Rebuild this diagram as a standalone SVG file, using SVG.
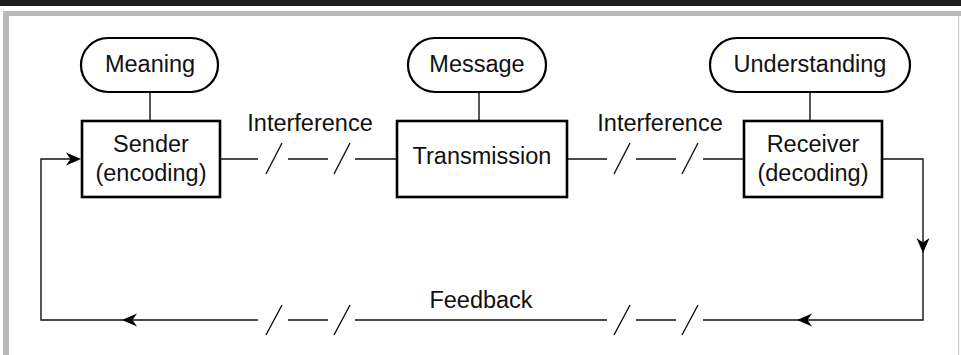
<svg xmlns="http://www.w3.org/2000/svg" width="961" height="355" viewBox="0 0 961 355">
  <style>
    text { font-family: "Liberation Sans", Arial, Helvetica, sans-serif; font-size: 23.5px; fill: #111; text-anchor: middle; }
    .pill { fill: #fff; stroke: #000; stroke-width: 2.2; }
    .box { fill: #fff; stroke: #000; stroke-width: 2.6; }
    .wire { fill: none; stroke: #111; stroke-width: 1.4; }
    .head { fill: #000; }
  </style>
  <defs>
    <!-- arrowhead pointing right, tip at origin -->
    <path id="arrow" class="head" d="M0,0 L-15,-6.5 L-10.5,0 L-15,6.5 Z"/>
  </defs>

  <!-- page frame -->
  <rect x="0" y="0" width="961" height="355" fill="#fff"/>
  <rect x="0" y="0" width="961" height="6" fill="#1c1c1c"/>
  <rect x="3" y="11" width="958" height="5" fill="#b9b9b9"/>
  <rect x="3" y="11" width="6" height="344" fill="#b9b9b9"/>
  <rect x="958" y="16" width="1.2" height="339" fill="#cfcfcf"/>

  <!-- connectors -->
  <g id="connectors">
    <path class="wire" d="M150,92 V121 M479,92 V121 M810,92 V121"/>
    <!-- sender to transmission, with interference breaks -->
    <path class="wire" d="M220,159 H258 M266,174 L282,143 M288,159 H328 M334,174 L350,143 M355,159 H397"/>
    <!-- transmission to receiver -->
    <path class="wire" d="M567,159 H607 M614,174 L630,143 M636,159 H676 M682,174 L698,143 M703,159 H744"/>
    <!-- feedback loop -->
    <path class="wire" d="M882,159 H923 V320 H703 M682,335 L698,305 M636,320 H676 M614,335 L630,305 M607,320 H355 M334,335 L350,305 M288,320 H328 M266,335 L282,305 M258,320 H41 V159 H72"/>
    <use href="#arrow" transform="translate(81,159)"/>
    <use href="#arrow" transform="translate(923,253) rotate(90)"/>
    <use href="#arrow" transform="translate(797,320) rotate(180)"/>
    <use href="#arrow" transform="translate(122,320) rotate(180)"/>
    <text x="310" y="131">Interference</text>
    <text x="660" y="131">Interference</text>
    <text x="481" y="308">Feedback</text>
  </g>

  <g id="meaning">
    <rect class="pill" x="81" y="38" width="137" height="54" rx="27"/>
    <text x="150" y="72">Meaning</text>
  </g>
  <g id="message">
    <rect class="pill" x="408" y="38" width="138" height="54" rx="27"/>
    <text x="477" y="72">Message</text>
  </g>
  <g id="understanding">
    <rect class="pill" x="710" y="38" width="200" height="54" rx="27"/>
    <text x="810" y="72">Understanding</text>
  </g>

  <g id="sender">
    <rect class="box" x="82" y="121" width="138" height="76"/>
    <text x="151" y="152">Sender</text>
    <text x="151" y="181">(encoding)</text>
  </g>
  <g id="transmission">
    <rect class="box" x="397" y="121" width="170" height="76"/>
    <text x="482" y="164">Transmission</text>
  </g>
  <g id="receiver">
    <rect class="box" x="744" y="121" width="138" height="76"/>
    <text x="813" y="152">Receiver</text>
    <text x="813" y="181">(decoding)</text>
  </g>
</svg>
